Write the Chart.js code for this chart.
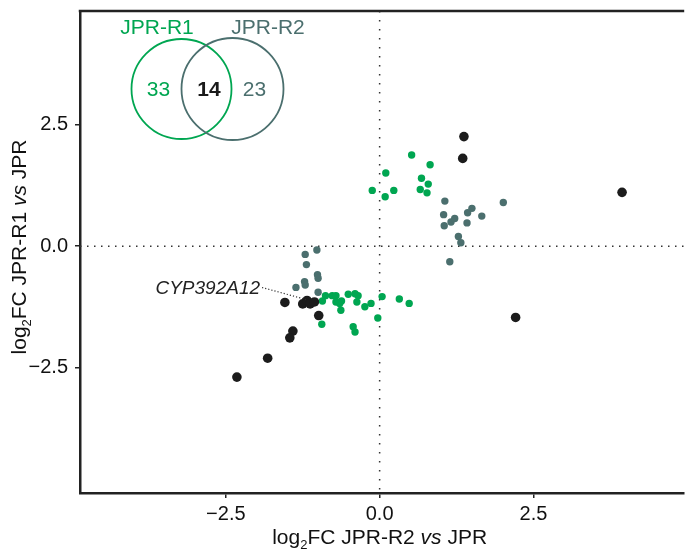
<!DOCTYPE html>
<html>
<head>
<meta charset="utf-8">
<script src="https://cdn.jsdelivr.net/npm/chart.js@4.4.1/dist/chart.umd.min.js"></script>
<style>
    body { margin: 0; background: #fff; }
    #wrap { width: 689px; height: 552px; }
</style>
</head>
<body>
<div id="wrap"><canvas id="scatter" width="689" height="552"></canvas></div>
<script>
// Ticks
const xTicks = [-2.5, 0, 2.5];
const yTicks = [-2.5, 0, 2.5];

// Genes shared by both comparisons (black)
const sharedX = [1.37, 1.35, 3.94, 2.21, -1.54, -1.25, -1.18, -1.13, -1.06, -0.99, -1.41, -1.46, -1.82, -2.32];
const sharedY = [2.26, 1.81, 1.11, -1.47, -1.16, -1.19, -1.12, -1.19, -1.15, -1.43, -1.75, -1.89, -2.31, -2.70];

// JPR-R2 only (grey-teal)
const r2OnlyX = [1.06, 1.04, 1.05, 1.16, 1.22, 1.43, 1.50, 1.42, 1.66, 2.01, 1.28, 1.32, 1.14,
    -1.02, -1.21, -1.19, -1.01, -1.00, -1.22, -1.21, -1.36, -1.00];
const r2OnlyY = [0.93, 0.65, 0.42, 0.50, 0.57, 0.69, 0.78, 0.48, 0.62, 0.90, 0.20, 0.07, -0.32,
    -0.08, -0.17, -0.38, -0.59, -0.66, -0.73, -0.80, -0.85, -0.95];

// JPR-R1 only (green)
const r1OnlyX = [0.52, 0.82, 0.10, 0.68, 0.79, -0.12, 0.23, 0.66, 0.77, 0.09,
    -0.88, -0.93, -0.77, -0.71, -0.71, -0.65, -0.62, -0.63, -0.51, -0.40, -0.35, -0.37,
    -0.24, -0.14, 0.04, -0.03, -0.94, -0.43, -0.40, 0.32, 0.48];
const r1OnlyY = [1.88, 1.68, 1.51, 1.40, 1.28, 1.15, 1.15, 1.17, 1.10, 1.02,
    -1.02, -1.13, -1.02, -1.02, -1.15, -1.18, -1.13, -1.32, -0.99, -0.98, -1.02, -1.15,
    -1.25, -1.18, -1.04, -1.48, -1.61, -1.66, -1.77, -1.09, -1.18];

// Venn inset
const vennLabels = ["JPR-R1", "JPR-R2"];
const vennCounts = [33, 14, 23];

// Labelled gene
const geneLabel = "CYP392A12";
const geneIndex = 6;

const GREEN = "#00a651";
const GREY = "#4b6f6e";
const BLACK = "#1c1c1c";
const AXIS = "#222222";
const FONT = "'Liberation Sans', Arial, sans-serif";

function toPoints(xs, ys) {
    return xs.map((x, i) => ({ x: x, y: ys[i] }));
}

function fmtTick(v) {
    if (v === 0) return "0.0";
    return (v < 0 ? "\u2212" : "") + Math.abs(v).toFixed(1);
}

// no extra room for half tick labels at the ends
function fixPad(s) {
    s.paddingTop = 0;
    s.paddingBottom = 0;
    s.paddingLeft = 0;
    s.paddingRight = 0;
}

// draw "log2FC <group> vs JPR" with subscript and italic pieces
function drawAxisTitle(ctx, group, cx, cy, rotate) {
    const parts = [
        { t: "log", f: "21px " + FONT, dy: 0 },
        { t: "2", f: "13px " + FONT, dy: 5 },
        { t: "FC " + group + " ", f: "21px " + FONT, dy: 0 },
        { t: "vs", f: "italic 21px " + FONT, dy: 0 },
        { t: " JPR", f: "21px " + FONT, dy: 0 }
    ];
    let total = 0;
    parts.forEach(p => { ctx.font = p.f; p.w = ctx.measureText(p.t).width; total += p.w; });
    ctx.save();
    ctx.translate(cx, cy);
    if (rotate) ctx.rotate(-Math.PI / 2);
    ctx.fillStyle = "#111";
    ctx.textBaseline = "alphabetic";
    ctx.textAlign = "left";
    let x = -total / 2;
    parts.forEach(p => {
        ctx.font = p.f;
        ctx.fillText(p.t, x, 7 + p.dy);
        x += p.w;
    });
    ctx.restore();
}

const decorPlugin = {
    id: "decor",
    beforeDatasetsDraw(chart) {
        const { ctx, chartArea: a, scales } = chart;
        const x0 = scales.x.getPixelForValue(0);
        const y0 = scales.y.getPixelForValue(0);
        ctx.save();
        ctx.strokeStyle = "#333";
        ctx.lineWidth = 1.5;
        ctx.setLineDash([1.5, 5.5]);
        ctx.beginPath();
        ctx.moveTo(a.left, y0);
        ctx.lineTo(a.right, y0);
        ctx.stroke();
        ctx.setLineDash([1.5, 7.5]);
        ctx.beginPath();
        ctx.moveTo(x0, a.top);
        ctx.lineTo(x0, a.bottom);
        ctx.stroke();
        ctx.restore();
    },
    afterDraw(chart) {
        const { ctx, chartArea: a, scales } = chart;
        ctx.save();

        // top frame line
        ctx.strokeStyle = AXIS;
        ctx.lineWidth = 2.5;
        ctx.beginPath();
        ctx.moveTo(a.left - 1.25, a.top);
        ctx.lineTo(a.right, a.top);
        ctx.stroke();

        // Venn inset
        const c1 = { x: a.left + 101.5, y: a.top + 78, r: 50 };
        const c2 = { x: a.left + 152.5, y: a.top + 78, r: 51 };
        ctx.lineWidth = 1.8;
        ctx.strokeStyle = GREEN;
        ctx.beginPath(); ctx.arc(c1.x, c1.y, c1.r, 0, Math.PI * 2); ctx.stroke();
        ctx.strokeStyle = GREY;
        ctx.beginPath(); ctx.arc(c2.x, c2.y, c2.r, 0, Math.PI * 2); ctx.stroke();

        ctx.textAlign = "center";
        ctx.textBaseline = "middle";
        ctx.font = "21px " + FONT;
        ctx.fillStyle = GREEN;
        ctx.fillText(vennLabels[0], a.left + 77, a.top + 17);
        ctx.fillText(String(vennCounts[0]), a.left + 78.5, c1.y + 1);
        ctx.fillStyle = GREY;
        ctx.fillText(vennLabels[1], a.left + 188, a.top + 17);
        ctx.fillText(String(vennCounts[2]), a.left + 174.5, c1.y + 1);
        ctx.fillStyle = "#1a1a1a";
        ctx.font = "bold 21px " + FONT;
        ctx.fillText(String(vennCounts[1]), a.left + 129, c1.y + 1);

        // gene annotation
        const px = scales.x.getPixelForValue(sharedX[geneIndex]);
        const py = scales.y.getPixelForValue(sharedY[geneIndex]);
        const lx = px - 45, ly = py - 13;
        ctx.strokeStyle = "#333";
        ctx.lineWidth = 1.2;
        ctx.setLineDash([1.2, 2]);
        ctx.beginPath();
        ctx.moveTo(lx, ly);
        ctx.lineTo(px - 1, py - 1);
        ctx.stroke();
        ctx.setLineDash([]);
        ctx.font = "italic 19px " + FONT;
        ctx.fillStyle = "#222";
        ctx.textAlign = "right";
        ctx.textBaseline = "middle";
        ctx.fillText(geneLabel, lx - 2, ly + 1);
        ctx.restore();

        // axis titles
        drawAxisTitle(ctx, "JPR-R2", scales.x.getPixelForValue(0), 537, false);
        drawAxisTitle(ctx, "JPR-R1", 19, 247, true);
    }
};

const tickFont = { family: FONT, size: 20 };

new Chart(document.getElementById("scatter").getContext("2d"), {
    type: "scatter",
    data: {
        datasets: [
            {
                label: "Shared",
                data: toPoints(sharedX, sharedY),
                backgroundColor: BLACK,
                borderColor: BLACK,
                pointRadius: 4.8,
                borderWidth: 0,
                order: 0
            },
            {
                label: "JPR-R1",
                data: toPoints(r1OnlyX, r1OnlyY),
                backgroundColor: GREEN,
                borderColor: GREEN,
                pointRadius: 3.7,
                borderWidth: 0,
                order: 1
            },
            {
                label: "JPR-R2",
                data: toPoints(r2OnlyX, r2OnlyY),
                backgroundColor: GREY,
                borderColor: GREY,
                pointRadius: 3.7,
                borderWidth: 0,
                order: 2
            }
        ]
    },
    options: {
        responsive: false,
        animation: false,
        layout: { padding: { top: 11, right: 0, left: 0, bottom: 0 } },
        plugins: {
            legend: { display: false },
            tooltip: { enabled: false }
        },
        scales: {
            x: {
                type: "linear",
                min: -4.87,
                max: 4.95,
                afterBuildTicks: s => { s.ticks = xTicks.map(v => ({ value: v })); },
                afterFit: s => { s.height = 59; fixPad(s); },
                ticks: { font: tickFont, color: "#111", padding: 4, maxRotation: 0, autoSkip: false, callback: fmtTick },
                grid: { drawOnChartArea: false, drawTicks: true, tickLength: 5, color: AXIS, lineWidth: 1.5 },
                border: { display: true, color: AXIS, width: 2.5 }
            },
            y: {
                type: "linear",
                min: -5.09,
                max: 4.85,
                afterBuildTicks: s => { s.ticks = yTicks.map(v => ({ value: v })); },
                afterFit: s => { s.width = 80; fixPad(s); },
                ticks: { font: tickFont, color: "#111", padding: 7, autoSkip: false, callback: fmtTick },
                grid: { drawOnChartArea: false, drawTicks: true, tickLength: 5, color: AXIS, lineWidth: 1.5 },
                border: { display: true, color: AXIS, width: 2.5 }
            }
        }
    },
    plugins: [decorPlugin]
});
</script>
</body>
</html>
